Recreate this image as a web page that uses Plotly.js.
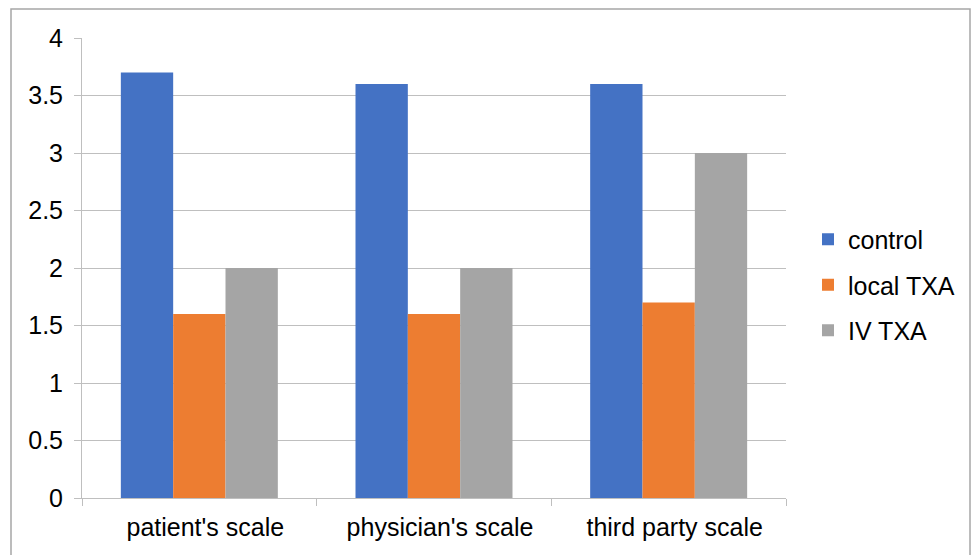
<!DOCTYPE html>
<html>
<head>
<meta charset="utf-8">
<script src="https://cdn.plot.ly/plotly-3.0.1.min.js"></script>
<style>html,body{margin:0;padding:0;background:#fff;}#chart{width:971px;height:555px;}</style>
</head>
<body>
<div id="chart"></div>
<script>
const categories = ["patient's scale", "physician's scale", "third party scale"];
const controlValues = [3.7, 3.6, 3.6];
const localTXAValues = [1.6, 1.6, 1.7];
const ivTXAValues = [2.0, 2.0, 3.0];
const seriesNames = ["control", "local TXA", "IV TXA"];
const seriesColors = ["#4472C4", "#ED7D31", "#A5A5A5"];
const yTickValues = [0, 0.5, 1, 1.5, 2, 2.5, 3, 3.5, 4];

const allValues = [controlValues, localTXAValues, ivTXAValues];
const traces = allValues.map((vals, i) => ({
  type: 'bar',
  x: categories,
  y: vals,
  name: seriesNames[i],
  legendgroup: 'g' + i,
  marker: {color: seriesColors[i], line: {width: 0}},
  hoverinfo: 'x+y+name'
}));

const fontFamily = 'Liberation Sans, Arial, Helvetica, sans-serif';
const fs = 25;
const L = 82, R = 786, T = 38, B = 498, W = 971, H = 555;
const pw = R - L, ph = B - T;
const px = v => (v - L) / pw;
const py = v => (B - v) / ph;

const layout = {
  width: W, height: H,
  margin: {l: L, r: W - R, t: T, b: H - B, pad: 0, autoexpand: false},
  paper_bgcolor: '#ffffff',
  plot_bgcolor: '#ffffff',
  font: {family: fontFamily, size: fs, color: '#000000'},
  barmode: 'group',
  bargap: 0.331,
  bargroupgap: 0,
  showlegend: true,
  legend: {
    xref: 'container', yref: 'container',
    x: 808 / W, xanchor: 'left',
    y: (H - 285) / H, yanchor: 'middle',
    font: {family: fontFamily, size: fs, color: '#000000'},
    tracegroupgap: 10,
    bgcolor: 'rgba(0,0,0,0)',
    itemclick: false
  },
  xaxis: {
    type: 'category',
    showline: true, linecolor: '#bfbfbf', linewidth: 1,
    ticks: 'outside', tickson: 'boundaries', ticklen: 7, tickcolor: '#bfbfbf', tickwidth: 1,
    showgrid: false, zeroline: false,
    tickfont: {family: fontFamily, size: fs, color: '#000000'},
    ticklabelstandoff: 7,
    ticklabelshift: 6
  },
  yaxis: {
    range: [0, 4],
    tickvals: yTickValues,
    showline: true, linecolor: '#bfbfbf', linewidth: 1,
    ticks: 'outside', ticklen: 7, tickcolor: '#bfbfbf', tickwidth: 1,
    showgrid: true, gridcolor: '#bfbfbf', gridwidth: 1,
    zeroline: false,
    tickfont: {family: fontFamily, size: fs, color: '#000000'},
    ticklabelstandoff: 6
  },
  shapes: [{
    type: 'rect', xref: 'paper', yref: 'paper',
    x0: px(11), x1: px(970), y0: py(9), y1: py(570),
    line: {color: '#a6a6a6', width: 1.5},
    fillcolor: 'rgba(0,0,0,0)',
    layer: 'below'
  }]
};

Plotly.newPlot('chart', traces, layout, {displayModeBar: false, staticPlot: true});
</script>
</body>
</html>
